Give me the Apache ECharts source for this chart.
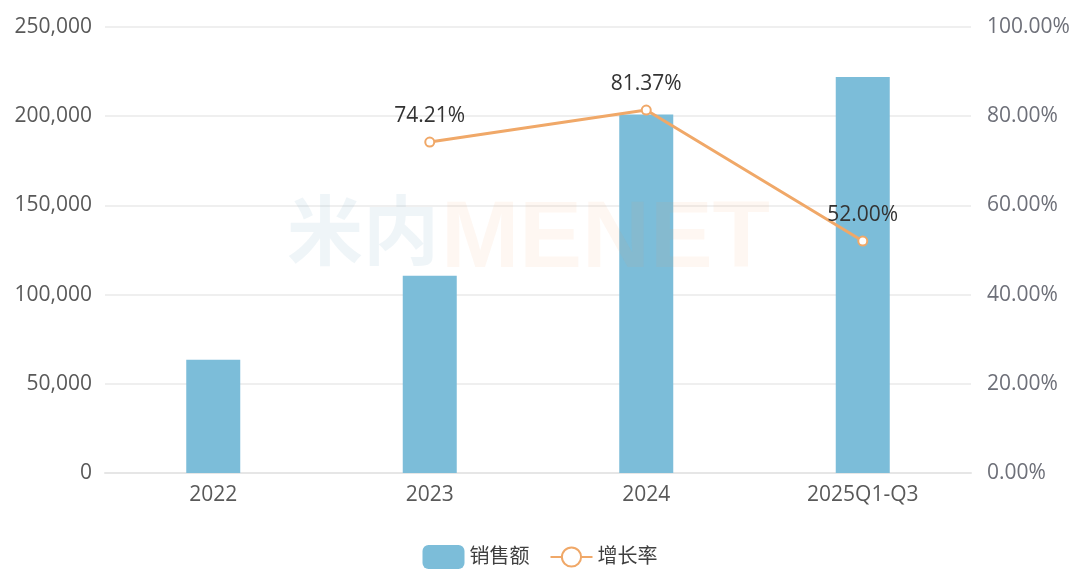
<!DOCTYPE html>
<html><head><meta charset="utf-8">
<script src="https://cdn.jsdelivr.net/npm/echarts@6/dist/echarts.min.js"></script>
<style>html,body{margin:0;padding:0;background:#fff}#c{width:1080px;height:579px}</style>
</head><body><div id="c"></div>
<script>
const categories = ['2022', '2023', '2024', '2025Q1-Q3'];
const salesValues = [63500, 110500, 201000, 222000];
const growthValues = [null, 74.21, 81.37, 52.00];
const leftTicks = [0, 50000, 100000, 150000, 200000, 250000];
const rightTicks = [0, 20, 40, 60, 80, 100];

const chart = echarts.init(document.getElementById('c'));
const font = '"Open Sans","Noto Sans CJK SC",sans-serif';
chart.setOption({
  animation: false,
  textStyle: { fontFamily: font },
  grid: { left: 105, right: 109, top: 27, bottom: 106 },
  legend: {
    bottom: 5, left: 'center', itemWidth: 42, itemHeight: 24, itemGap: 20,
    textStyle: { fontSize: 20, color: '#404040', fontFamily: font },
    data: [{ name: '销售额', icon: 'roundRect' }, { name: '增长率' }]
  },
  xAxis: {
    type: 'category', data: categories,
    axisLine: { lineStyle: { color: '#e6e6e6', width: 2 } },
    axisTick: { show: false },
    axisLabel: { fontSize: 21, color: '#595959', margin: 12 }
  },
  yAxis: [{
    type: 'value', min: leftTicks[0], max: leftTicks[leftTicks.length - 1], interval: 50000,
    axisLine: { show: false }, axisTick: { show: false },
    axisLabel: { fontSize: 21, color: '#595959', margin: 13,
      formatter: v => v.toLocaleString('en-US') },
    splitLine: { lineStyle: { color: '#eaeaea', width: 1.5 } }
  }, {
    type: 'value', min: rightTicks[0], max: rightTicks[rightTicks.length - 1], interval: 20,
    axisLine: { show: false }, axisTick: { show: false },
    axisLabel: { fontSize: 21, color: '#6e7079', margin: 16,
      formatter: v => v.toFixed(2) + '%' },
    splitLine: { show: false }
  }],
  series: [{
    name: '销售额', type: 'bar', data: salesValues, barWidth: 54,
    itemStyle: { color: '#7cbdd9' }
  }, {
    name: '增长率', type: 'line', yAxisIndex: 1, data: growthValues,
    symbol: 'emptyCircle', symbolSize: 9,
    lineStyle: { color: '#f0a868', width: 3 },
    itemStyle: { color: '#f0a868', borderWidth: 2 },
    label: { show: true, position: 'top', distance: 10, fontSize: 21, color: '#333',
      formatter: p => p.value.toFixed(2) + '%' }
  }],
  graphic: [{
    type: 'text', left: 287, top: 192, z: 100, silent: true,
    style: { text: '米内', fontSize: 76, fontWeight: 'bold', fontFamily: '"Noto Sans CJK SC"',
      fill: 'rgba(120,170,195,0.12)' }
  }, {
    type: 'text', left: 441, top: 194, z: 100, silent: true,
    style: { text: 'MENET', fontSize: 94, fontWeight: 'bold', fontFamily: '"Liberation Sans",sans-serif',
      fill: 'rgba(245,150,90,0.08)' }
  }]
});
</script></body></html>
